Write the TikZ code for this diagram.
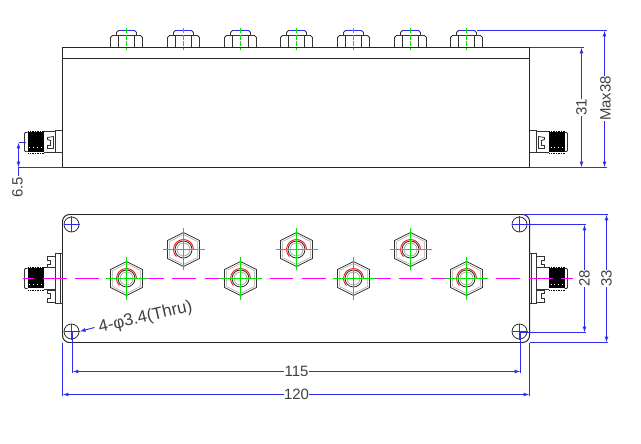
\documentclass[tikz,border=0pt]{standalone}
\usepackage{fontspec}
\setmainfont{Liberation Sans}
\usetikzlibrary{arrows.meta}
\definecolor{dimblue}{RGB}{45,45,235}
\definecolor{axismagenta}{RGB}{255,0,255}
\definecolor{axisgreen}{RGB}{0,230,0}

\begin{document}
\begin{tikzpicture}[x=1bp,y=-1bp,
    part/.style={draw=black!85,line width=1pt},
    thin part/.style={draw=black!80,line width=0.8pt},
    dim/.style={draw=dimblue,line width=1pt},
    dimarrows/.style={dim,{Latex[length=6pt,width=4pt]}-{Latex[length=6pt,width=4pt]}},
    centre/.style={draw=axisgreen,line width=1pt},
    label/.style={fill=white,inner sep=0.5pt,text=black!75,font=\fontsize{15}{15}\selectfont}]
      \useasboundingbox (0,0) rectangle (641,444);
      \begin{scope}[shift={(0.5,0.5)}]

      % side view
      \draw[part] (62,47) rectangle (529,167);
      \draw[part] (62,58) -- (529,58);
      \foreach \cx in {126,183,240,296,353,410,466} {
        \draw[thin part] (\cx-16,47) -- (\cx-16,37) -- (\cx-14,35) -- (\cx+14,35) -- (\cx+16,37) -- (\cx+16,47);
        \draw[thin part] (\cx-8,35) -- (\cx-8,47) (\cx+8,35) -- (\cx+8,47);
        \draw[thin part] (\cx-10,35) -- (\cx-10,32) -- (\cx-8,30) -- (\cx+8,30) -- (\cx+10,32) -- (\cx+10,35);
        \draw[dim] (\cx-8,30) -- (\cx+8,30);
        \draw[centre,dash pattern=on 5pt off 1.5pt] (\cx,28) -- (\cx,50);
      }
      \foreach \wall/\dir in {62/1,529/-1} {
        \begin{scope}[shift={(\wall,0)},xscale=\dir]
          \draw[thin part] (0,130) -- (-7,130) -- (-7,152) -- (0,152);
          \draw[thin part] (-7,131) -- (-19,131) (-7,152) -- (-19,152);
          \draw[thin part] (-9,136) -- (-15,137) -- (-15,139) -- (-12,140) -- (-12,145) -- (-15,145) -- (-15,148) -- (-9,148) -- cycle;
          \fill[black] (-19,132) rectangle (-35,152);
          \draw[black,line width=1.2pt,dash pattern=on 1.5pt off 1pt] (-19,131) -- (-35,131) (-19,153) -- (-35,153);
          \draw[white,line width=0.6pt,dash pattern=on 1pt off 3pt] (-21,147) -- (-34,147);
          \draw[thin part,rounded corners=1pt] (-35,132) -- (-38,132) -- (-38,151) -- (-35,151);
        \end{scope}
      }

      % plan view
      \draw[part,rounded corners=7pt] (62,214) rectangle (529,342);
      \foreach \hx/\hy in {71/224,71/331,519/224,519/331} {
        \draw[thin part] (\hx,\hy) circle (7.5);
        \draw[dim,line width=0.7pt] (\hx-8,\hy) -- (\hx+8,\hy) (\hx,\hy-8) -- (\hx,\hy+8);
      }
      \foreach \wall/\dir in {62/1,529/-1} {
        \begin{scope}[shift={(\wall,0)},xscale=\dir]
          \draw[thin part] (0,253) -- (-7,253) -- (-7,303) -- (0,303) (-2,253) -- (-2,303);
          \draw[thin part] (-7,256) -- (-15,256) -- (-15,260) -- (-12,260) -- (-12,264) -- (-15,264) -- (-15,267) -- (-7,267);
          \draw[thin part] (-7,290) -- (-15,290) -- (-15,293) -- (-12,293) -- (-12,298) -- (-15,298) -- (-15,302) -- (-7,302);
          \draw[thin part] (-7,267) -- (-19,267) (-7,289) -- (-19,289);
          \fill[black] (-19,268) rectangle (-35,288);
          \draw[black,line width=1.2pt,dash pattern=on 1.5pt off 1pt] (-19,267) -- (-35,267) (-19,290) -- (-35,290);
          \draw[white,line width=0.6pt,dash pattern=on 1pt off 3pt] (-21,284) -- (-34,284);
          \draw[thin part,rounded corners=1pt] (-35,268) -- (-38,268) -- (-38,288) -- (-35,288);
        \end{scope}
      }
      \draw[axismagenta,line width=1pt,dash pattern=on 24pt off 8.5pt,dash phase=12pt] (22,278) -- (572,278);
      \foreach \cx/\cy in {126/278,183/249,240/278,296/249,353/278,410/249,466/278} {
        \begin{scope}[shift={(\cx,\cy)}]
          \fill[white] (0,-17) -- (16,-9) -- (16,9) -- (0,17) -- (-16,9) -- (-16,-9) -- cycle;
          \draw[thin part] (0,-17) -- (16,-9) -- (16,9) -- (0,17) -- (-16,9) -- (-16,-9) -- cycle;
          \draw[black!35,line width=0.5pt] (0,-15) -- (14,-8) -- (14,8) -- (0,15) -- (-14,8) -- (-14,-8) -- cycle;
          \draw[red,line width=0.8pt] (10,0) arc (0:-225:10);
          \draw[thin part] (0,0) circle (8.5);
          \draw[black!45,line width=0.5pt] (0,0) circle (6.5);
          \draw[centre] (-21,0) -- (21,0) (0,-21) -- (0,21);
        \end{scope}
      }

      % dimensions
      \draw[dim] (18,142) -- (25,142) (18,167) -- (62,167);
      \draw[dim,{Latex[length=6pt,width=4pt]}-{Latex[length=6pt,width=4pt]}] (18,142) -- (18,167);
      \draw[dim] (18,167) -- (18,176);
      \draw (17,187) node[label,rotate=90](dimsix) {6.5};

      \draw[dim] (529,47) -- (583,47) (529,167) -- (583,167);
      \draw[dimarrows] (581,47) -- (581,167);
      \draw (581,107) node[label,rotate=90](dimthirtyone) {31};
      \draw[dim] (476,30) -- (606,30) (529,167) -- (606,167);
      \draw[dimarrows] (604,30) -- (604,167);
      \draw (605,98) node[label,rotate=90](dimmax) {Max38};

      \draw[dim] (520,224) -- (585,224) (520,332) -- (585,332);
      \draw[dimarrows] (584,224) -- (584,332);
      \draw (584,278) node[label,rotate=90](dimtwentyeight) {28};
      \draw[dim] (522,214) -- (607,214) (529,342) -- (607,342);
      \draw[dimarrows] (606,214) -- (606,342);
      \draw (606,278) node[label,rotate=90](dimthirtythree) {33};

      \draw[dim] (72,331) -- (72,372) (520,331) -- (520,372);
      \draw[dimarrows] (72,371) -- (520,371);
      \draw (296,371) node[label](dimonefifteen) {115};
      \draw[dim] (62,342) -- (62,395) (529,342) -- (529,395);
      \draw[dimarrows] (62,394) -- (529,394);
      \draw (296,394) node[label](dimonetwenty) {120};

      \draw (145,317) node[label,fill=none,rotate=13,font=\fontsize{17}{17}\selectfont](holenote) {4-φ3.4(Thru)};
      \draw[dim,-{Latex[length=6pt,width=4pt]}] (94,327) -- (79,331);
      \end{scope}
    \end{tikzpicture}
\end{document}
